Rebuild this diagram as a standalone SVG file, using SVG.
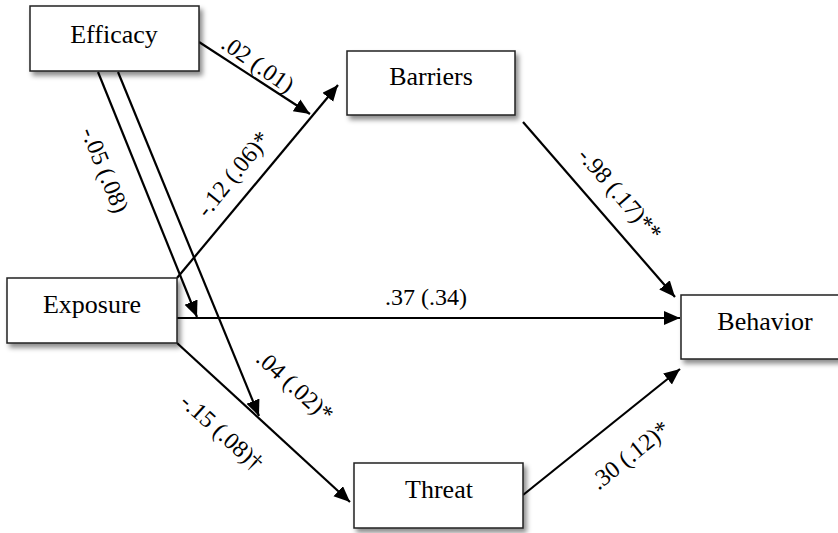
<svg xmlns="http://www.w3.org/2000/svg" width="838" height="533" viewBox="0 0 838 533">
<defs>
<filter id="sh" x="-10%" y="-20%" width="130%" height="150%">
<feDropShadow dx="3" dy="4" stdDeviation="2.5" flood-color="#000" flood-opacity="0.45"/>
</filter>
<marker id="ah" markerUnits="userSpaceOnUse" markerWidth="18" markerHeight="16" refX="16" refY="7" orient="auto">
<path d="M0,0 L16,7 L0,14 z" fill="#000"/>
</marker>
<style>
.box{fill:#fff;stroke:#222;stroke-width:1.5;filter:url(#sh)}
.nt{font-size:26px;fill:#000;text-anchor:middle}
.lb{font-size:24px;fill:#000;text-anchor:middle}
.edge{stroke:#000;stroke-width:2.2;fill:none;marker-end:url(#ah)}
</style>
</defs>
<rect width="838" height="533" fill="#fff"/>
<g id="connectors" font-family="'Liberation Serif', 'Times New Roman', 'DejaVu Serif', serif">
<line class="edge" x1="199" y1="42" x2="310" y2="114"/>
<line class="edge" x1="177" y1="278" x2="338" y2="85"/>
<line class="edge" x1="98" y1="72" x2="197" y2="317"/>
<line class="edge" x1="118" y1="72" x2="259" y2="416"/>
<line class="edge" x1="177" y1="343" x2="350" y2="502"/>
<line class="edge" x1="523" y1="122" x2="675" y2="297"/>
<line class="edge" x1="523" y1="495" x2="680" y2="369"/>
<line class="edge" x1="177" y1="318" x2="680" y2="318"/>
<text class="lb" transform="translate(258,64) rotate(35)" y="8">.02 (.01)</text>
<text class="lb" transform="translate(233,174) rotate(-51)" y="8">-.12 (.06)*</text>
<text class="lb" transform="translate(105,170) rotate(68)" y="8">-.05 (.08)</text>
<text class="lb" transform="translate(295,386) rotate(42)" y="8">.04 (.02)*</text>
<text class="lb" transform="translate(222,432) rotate(42)" y="8">-.15 (.08)†</text>
<text class="lb" transform="translate(620,194) rotate(49)" y="8">-.98 (.17)**</text>
<text class="lb" transform="translate(630,455) rotate(-39)" y="8">.30 (.12)*</text>
<text class="lb" x="426" y="305">.37 (.34)</text>
</g>
<g font-family="'Liberation Serif', 'Times New Roman', 'DejaVu Serif', serif">
<g id="efficacy">
<rect class="box" x="30" y="6" width="169" height="65"/>
<text class="nt" x="114" y="43">Efficacy</text>
</g>
<g id="barriers">
<rect class="box" x="347" y="51" width="168" height="64"/>
<text class="nt" x="431" y="85">Barriers</text>
</g>
<g id="exposure">
<rect class="box" x="7" y="278" width="170" height="65"/>
<text class="nt" x="92" y="313">Exposure</text>
</g>
<g id="behavior">
<rect class="box" x="681" y="295" width="170" height="64"/>
<text class="nt" x="765" y="330">Behavior</text>
</g>
<g id="threat">
<rect class="box" x="354" y="463" width="169" height="65"/>
<text class="nt" x="439" y="498">Threat</text>
</g>
</g>
</svg>
